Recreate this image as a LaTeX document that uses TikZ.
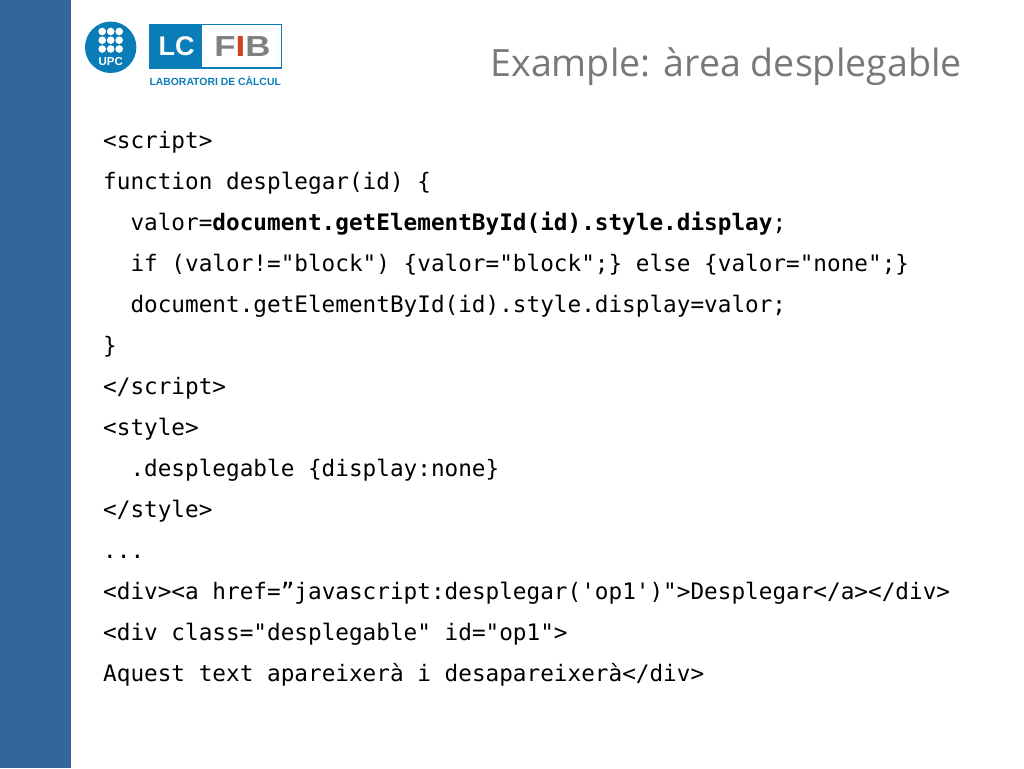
\documentclass[tikz,border=0pt]{standalone}
\usepackage{fontspec}
\setmainfont{Open Sans}
\setmonofont{DejaVu Sans Mono}
\newfontfamily\logofont{Liberation Sans}
\definecolor{sidebar}{HTML}{336699}
\definecolor{upcblue}{HTML}{0A7DB8}
\definecolor{fibgray}{HTML}{808080}
\definecolor{fibred}{HTML}{D0421B}
\definecolor{titlegray}{HTML}{787878}
\tikzset{
  codeline/.style={anchor=base west,inner sep=0pt,font=\fontsize{22.69}{26}\ttfamily,text=black},
  upcdot/.style={circle,fill=white,inner sep=0pt,minimum size=7.6pt},
  logotext/.style={inner sep=0pt,font=\logofont\bfseries}
}
\begin{document}
\begin{tikzpicture}[x=1pt,y=-1pt]
\useasboundingbox (0,0) rectangle (1024,768);
\fill [sidebar] (0,0) rectangle (71,768);
% logo UPC
\fill [upcblue] (110.7,47.3) circle (25.7);
\foreach \col in {102.2,110.7,119.2}
  \foreach \row in {31.5,40.2,49}
    \node [upcdot] (dot\col\row) at (\col,\row) {};
\node [logotext,white,font=\logofont\bfseries\fontsize{11.5}{12}\selectfont] (upc) at (110.7,61.5) {UPC};
% logo LC FIB
\draw [upcblue,line width=1.5pt,fill=white] (149.5,24.5) rectangle (281.5,68);
\fill [upcblue] (149.5,24.5) rectangle (202,68);
\node [logotext,white,font=\logofont\bfseries\fontsize{27}{27}\selectfont] (lc) at (176.5,46.5) {LC};
\node [logotext,fibgray,xscale=1.2,transform shape,font=\logofont\bfseries\fontsize{29}{29}\selectfont] (fib) at (242.5,47) {F\textcolor{fibred}{I}B};
\node [logotext,upcblue,font=\logofont\bfseries\fontsize{10.4}{11}\selectfont] (lab) at (215.2,81) {LABORATORI DE CÀLCUL};
% title
\node [anchor=base east,inner sep=0pt,text=titlegray,font=\fontsize{37.6}{40}\selectfont] (title) at (962,77) {Example: àrea desplegable};
% code
\node [codeline] (l1) at (103,148) {<script>};
\node [codeline] (l2) at (103,189) {function desplegar(id) \{};
\node [codeline] (l3) at (130.3,230) {valor=\textbf{document.getElementById(id).style.display};};
\node [codeline] (l4) at (130.3,271) {if (valor!="block") \{valor="block";\} else \{valor="none";\}};
\node [codeline] (l5) at (130.3,312) {document.getElementById(id).style.display=valor;};
\node [codeline] (l6) at (103,353) {\}};
\node [codeline] (l7) at (103,394) {</script>};
\node [codeline] (l8) at (103,435) {<style>};
\node [codeline] (l9) at (130.3,476) {.desplegable \{display:none\}};
\node [codeline] (l10) at (103,517) {</style>};
\node [codeline] (l11) at (103,558) {...};
\node [codeline] (l12) at (103,599) {<div><a href=”javascript:desplegar('op1')">Desplegar</a></div>};
\node [codeline] (l13) at (103,640) {<div class="desplegable" id="op1">};
\node [codeline] (l14) at (103,681) {Aquest text apareixerà i desapareixerà</div>};
\end{tikzpicture}
\end{document}
